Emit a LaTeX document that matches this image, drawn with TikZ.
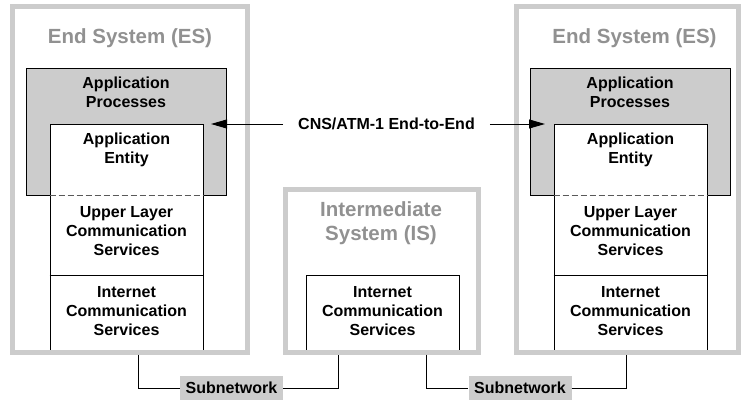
\documentclass[tikz,border=0pt]{standalone}
\usepackage{fontspec}
\setmainfont{Liberation Sans}
\usetikzlibrary{arrows.meta}
\definecolor{sysgray}{RGB}{204,204,204}
\definecolor{titlegray}{RGB}{145,145,145}
\definecolor{procgray}{RGB}{204,204,204}
\begin{document}
\begin{tikzpicture}[x=1pt,y=-1pt,
  sysbox/.style={draw=sysgray, line width=5pt, inner sep=0pt},
  procbox/.style={draw=black, fill=procgray, line width=0.8pt, inner sep=0pt},
  layerbox/.style={draw=black, fill=white, line width=0.8pt, inner sep=0pt},
  systitle/.style={text=titlegray, font=\fontsize{20.5}{24}\selectfont\bfseries, align=center, inner sep=0pt},
  txt/.style={font=\fontsize{16}{19}\selectfont\bfseries, align=center, inner sep=0pt},
  subnet/.style={fill=procgray, font=\fontsize{16}{19}\selectfont\bfseries, inner sep=0pt, minimum width=103pt, minimum height=24pt},
  wire/.style={draw=black, line width=0.9pt},
  sepline/.style={draw=black, line width=0.8pt},
  dashsep/.style={draw=black!65, line width=0.8pt, dash pattern=on 6pt off 3pt},
  e2e/.style={-{Triangle[length=16pt,width=9pt]}, line width=0.9pt}
]
\path[use as bounding box] (0,0) rectangle (741,403);

% ---------- left end system ----------
\node[procbox, minimum width=200pt, minimum height=127pt] (lproc) at (126,131.5) {};
\node[layerbox, minimum width=153pt, minimum height=227pt] (lstack) at (126.5,237.5) {};
\draw[dashsep] (lproc.south -| lstack.west) -- (lproc.south -| lstack.east);
\coordinate (lsplit) at (126.5,275);
\draw[sepline] (lsplit -| lstack.west) -- (lsplit -| lstack.east);
\node[txt] (lproct) at (126,92.5) {Application\\Processes};
\node[txt] (lentt) at (126.5,149.5) {Application\\Entity};
\node[txt] (lult) at (126.5,231) {Upper Layer\\Communication\\Services};
\node[txt] (linet) at (126.5,311) {Internet\\Communication\\Services};
\node[systitle] (ltitle) at (130,38) {End System (ES)};

% ---------- right end system ----------
\node[procbox, minimum width=200pt, minimum height=127pt] (rproc) at (630,131.5) {};
\node[layerbox, minimum width=153pt, minimum height=227pt] (rstack) at (630.5,237.5) {};
\draw[dashsep] (rproc.south -| rstack.west) -- (rproc.south -| rstack.east);
\coordinate (rsplit) at (630.5,275);
\draw[sepline] (rsplit -| rstack.west) -- (rsplit -| rstack.east);
\node[txt] (rproct) at (630,92.5) {Application\\Processes};
\node[txt] (rentt) at (630.5,149.5) {Application\\Entity};
\node[txt] (rult) at (630.5,231) {Upper Layer\\Communication\\Services};
\node[txt] (rinet) at (630.5,311) {Internet\\Communication\\Services};
\node[systitle] (rtitle) at (634.5,38) {End System (ES)};

% ---------- intermediate system ----------
\node[layerbox, minimum width=153pt, minimum height=76pt] (isstack) at (382.5,313) {};
\node[txt] (isinet) at (382.5,311) {Internet\\Communication\\Services};
\node[systitle] (istitle) at (381,223.5) {Intermediate\\System (IS)};

% ---------- outer system frames ----------
\node[sysbox, minimum width=235pt, minimum height=345.5pt] (les) at (130,179.25) {};
\node[sysbox, minimum width=222pt, minimum height=345.5pt] (res) at (627.5,179.25) {};
\node[sysbox, minimum width=193pt, minimum height=162pt] (is) at (381.5,271) {};

% ---------- subnetworks ----------
\node[subnet] (sub1) at (231.5,388) {Subnetwork};
\node[subnet] (sub2) at (520,388) {Subnetwork};
\coordinate (c1) at (138,0);
\coordinate (c2) at (338,0);
\coordinate (c3) at (426,0);
\coordinate (c4) at (626,0);
\draw[wire] (les.south -| c1) |- (sub1.west);
\draw[wire] (sub1.east) -| (is.south -| c2);
\draw[wire] (is.south -| c3) |- (sub2.west);
\draw[wire] (sub2.east) -| (res.south -| c4);

% ---------- end-to-end arrow ----------
\node[txt, inner xsep=15pt] (cns) at (386.5,124) {CNS/ATM-1 End-to-End};
\coordinate (tipL) at (211,124);
\coordinate (tipR) at (545,124);
\draw[e2e] (cns.west) -- (tipL);
\draw[e2e] (cns.east) -- (tipR);
\end{tikzpicture}
\end{document}
